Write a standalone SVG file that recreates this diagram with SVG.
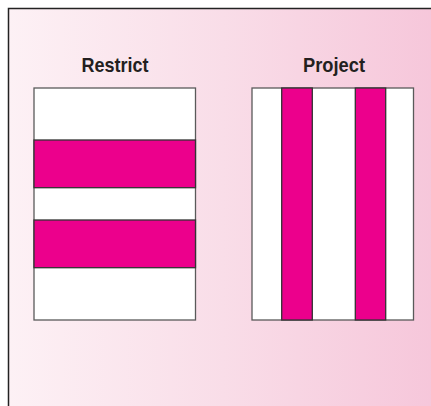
<svg xmlns="http://www.w3.org/2000/svg" width="431" height="406" viewBox="0 0 431 406">
<defs>
<linearGradient id="bg" x1="0" y1="0" x2="1" y2="0">
<stop offset="0" stop-color="#fdf1f5"/>
<stop offset="0.5" stop-color="#f9dde8"/>
<stop offset="1" stop-color="#f6c6da"/>
</linearGradient>
<style>
.box{fill:#ffffff;stroke:#5a5a5a;stroke-width:1.3}
.band{fill:#ec008c;stroke:#333;stroke-width:1.3}
.title{font-family:"Liberation Sans",Arial,sans-serif;font-weight:bold;font-size:21px;fill:#231f20;text-anchor:middle}
</style>
</defs>
<rect x="0" y="0" width="431" height="406" fill="#ffffff"/>
<rect x="8.5" y="8.5" width="430" height="405" fill="url(#bg)" stroke="#222" stroke-width="1.5"/>
<g id="restrict">
<text class="title" x="115" y="71.5" textLength="67" lengthAdjust="spacingAndGlyphs">Restrict</text>
<rect class="box" x="34" y="88" width="161.5" height="232"/>
<rect class="band" x="34" y="140" width="161.5" height="47.7"/>
<rect class="band" x="34" y="220" width="161.5" height="47.7"/>
</g>
<g id="project">
<text class="title" x="334" y="71.5" textLength="62" lengthAdjust="spacingAndGlyphs">Project</text>
<rect class="box" x="252" y="88" width="161.5" height="232"/>
<rect class="band" x="281.7" y="88" width="30.6" height="232"/>
<rect class="band" x="355.3" y="88" width="30.4" height="232"/>
</g>
</svg>
